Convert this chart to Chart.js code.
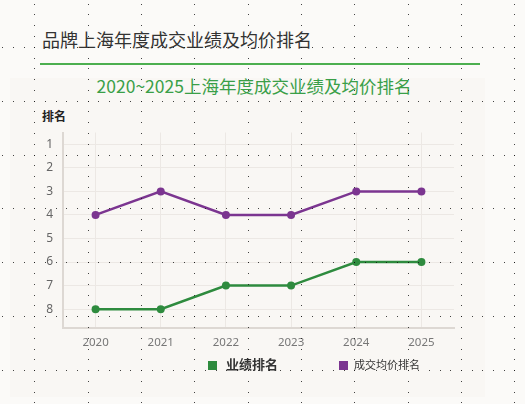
<!DOCTYPE html>
<html>
<head>
<meta charset="utf-8">
<script src="https://cdn.jsdelivr.net/npm/chart.js@4/dist/chart.umd.min.js"></script>
<style>
  html, body { margin: 0; padding: 0; background: #fbfaf8; }
  #page { position: relative; width: 525px; height: 404px; overflow: hidden; font-family: "Noto Sans CJK SC", "Noto Sans", sans-serif; }
  #title { position: absolute; left: 42px; top: 30px; font-size: 18px; line-height: 18px; color: #333; white-space: nowrap; }
  #rule { position: absolute; left: 40px; top: 63px; width: 440px; height: 2px; background: #4caf50; }
  #panel { position: absolute; left: 10px; top: 78px; width: 475px; height: 319px; background: #f9f7f4; }
  #subtitle { position: absolute; left: 0; top: 77px; width: 508px; text-align: center; font-size: 17.5px; line-height: 18px; color: #3a9f48; white-space: nowrap; }
  #ylabel { position: absolute; left: 42px; top: 110px; font-size: 12px; line-height: 12px; font-weight: bold; color: #222; }
  #chart { position: absolute; left: 10px; top: 78px; }
  #legend { position: absolute; left: 0; top: 0; }
  .item { position: absolute; white-space: nowrap; color: #333; }
  .sw { position: absolute; width: 9px; height: 9px; }
  #dots { position: absolute; left: 0; top: 0; pointer-events: none; }
</style>
</head>
<body>
<div id="page">
  <div id="title">品牌上海年度成交业绩及均价排名</div>
  <div id="rule"></div>
  <div id="panel"></div>
  <div id="subtitle">2020~2025上海年度成交业绩及均价排名</div>
  <div id="ylabel">排名</div>
  <canvas id="chart" width="475" height="319"></canvas>
  <div id="legend"></div>
  <canvas id="dots" width="525" height="404"></canvas>
</div>
<script>
const years = ['2020', '2021', '2022', '2023', '2024', '2025'];
const salesRank = [8, 8, 7, 7, 6, 6];
const priceRank = [4, 3, 4, 4, 3, 3];
const rankTicks = [1, 2, 3, 4, 5, 6, 7, 8];
const seriesNames = ['业绩排名', '成交均价排名'];
const seriesColors = ['#2e8b3e', '#7b3590'];

const gridColor = '#ece8e4';
const axisColor = '#ddd8d3';

const ctx = document.getElementById('chart');

new Chart(ctx, {
    type: 'line',
    data: {
        labels: years,
        datasets: [{
            label: seriesNames[0],
            data: salesRank,
            borderColor: seriesColors[0],
            backgroundColor: seriesColors[0],
            borderWidth: 2.5,
            pointRadius: 4,
            pointBorderWidth: 0,
            tension: 0
        }, {
            label: seriesNames[1],
            data: priceRank,
            borderColor: seriesColors[1],
            backgroundColor: seriesColors[1],
            borderWidth: 2.5,
            pointRadius: 4,
            pointBorderWidth: 0,
            tension: 0
        }]
    },
    options: {
        responsive: false,
        animation: false,
        layout: { padding: { top: 54.5, right: 31, bottom: 39, left: 0 } },
        plugins: {
            legend: { display: false },
            tooltip: { enabled: false }
        },
        scales: {
            x: {
                offset: true,
                grid: { color: gridColor, lineWidth: 1, drawTicks: false },
                border: { color: axisColor, width: 2 },
                ticks: { color: '#777', font: { family: '"Noto Sans", sans-serif', size: 11.5 }, padding: 8 },
                afterFit: function(scale) { scale.height = 30; }
            },
            y: {
                min: 0.5,
                max: 8.8,
                reverse: true,
                grid: { color: gridColor, lineWidth: 1, drawTicks: false },
                border: { color: axisColor, width: 2 },
                ticks: { color: '#666', font: { family: '"Noto Sans", sans-serif', size: 12 }, padding: 10 },
                afterBuildTicks: function(scale) {
                    scale.ticks = rankTicks.map(v => ({ value: v }));
                },
                afterFit: function(scale) { scale.width = 53; }
            }
        }
    }
});

// legend (first item shown emphasised, as in the source)
const legend = document.getElementById('legend');
const legendPos = [{ sw: 208, text: 226, size: 13, weight: 'bold', top: 357 }, { sw: 339, text: 354, size: 11, weight: 'normal', top: 359 }];
seriesNames.forEach((name, i) => {
    const p = legendPos[i];
    const sw = document.createElement('div');
    sw.className = 'sw';
    sw.style.left = p.sw + 'px';
    sw.style.top = '361px';
    sw.style.background = seriesColors[i];
    legend.appendChild(sw);
    const t = document.createElement('div');
    t.className = 'item';
    t.style.left = p.text + 'px';
    t.style.top = p.top + 'px';
    t.style.fontSize = p.size + 'px';
    t.style.lineHeight = p.size + 'px';
    t.style.fontWeight = p.weight;
    t.textContent = name;
    legend.appendChild(t);
});

// dotted graph-paper overlay
const d = document.getElementById('dots').getContext('2d');
d.fillStyle = 'rgba(20,20,20,0.8)';
const cellX = 53.33, cellY = 53.9;
for (let r = 0; r < 7; r++) {
    const y = 46.7 + r * cellY;
    for (let x = 2.33; x < 525; x += cellX / 5) d.fillRect(Math.round(x), Math.round(y), 1, 1);
}
for (let c = 0; c < 10; c++) {
    const x = 34.33 + c * cellX;
    for (let y = 3.6; y < 404; y += cellY / 5) d.fillRect(Math.round(x), Math.round(y), 1, 1);
}
</script>
</body>
</html>
